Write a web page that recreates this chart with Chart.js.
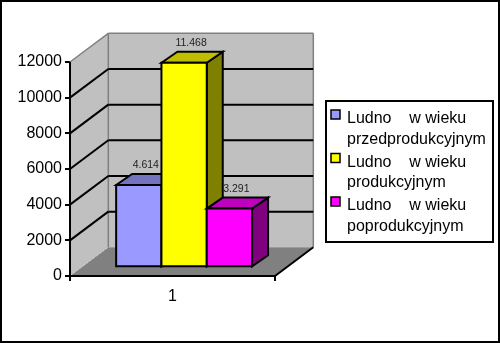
<!DOCTYPE html>
<html>
<head>
<meta charset="utf-8">
<script src="https://cdn.jsdelivr.net/npm/chart.js@4/dist/chart.umd.min.js"></script>
<style>
html,body{margin:0;padding:0;background:#fff;}
canvas{display:block;}
</style>
</head>
<body>
<canvas id="c" width="500" height="343"></canvas>
<script>
// ---- data ----
const categories = ['1'];
const seriesLabels = [
  ['Ludno    w wieku', 'przedprodukcyjnym'],
  ['Ludno    w wieku', 'produkcyjnym'],
  ['Ludno    w wieku', 'poprodukcyjnym']
];
const seriesPre = [4614];
const seriesProd = [11468];
const seriesPost = [3291];
const yTicks = [0, 2000, 4000, 6000, 8000, 10000, 12000];
const frontColors = ['#9999FF', '#FFFF00', '#FF00FF'];
const topColors = ['#7373BF', '#BFBF00', '#BF00BF'];
const sideColors = ['#4D4D80', '#808000', '#800080'];

// ---- geometry of fake 3D ----
const DEPTH = {x: 38.3, y: -28.7};   // wall depth
const BARFRONT = {x: 11.6, y: -8.7}; // bar front face offset
const BARDEPTH = {x: 16, y: -11};    // bar depth

function fmt(v){ return String(v).replace(/\B(?=(\d{3})+(?!\d))/g, '.'); }

function poly(ctx, pts, fill, stroke, lw){
  ctx.beginPath();
  ctx.moveTo(pts[0][0], pts[0][1]);
  for (let i = 1; i < pts.length; i++) ctx.lineTo(pts[i][0], pts[i][1]);
  ctx.closePath();
  if (fill){ ctx.fillStyle = fill; ctx.fill(); }
  if (stroke){ ctx.strokeStyle = stroke; ctx.lineWidth = lw; ctx.lineJoin = 'miter'; ctx.stroke(); }
}
function line(ctx, x1, y1, x2, y2, color, lw, dash){
  ctx.save();
  ctx.beginPath();
  if (dash) ctx.setLineDash(dash);
  ctx.moveTo(x1, y1); ctx.lineTo(x2, y2);
  ctx.strokeStyle = color; ctx.lineWidth = lw; ctx.stroke();
  ctx.restore();
}

const threeD = {
  id: 'threeD',
  beforeDraw(chart){
    const ctx = chart.ctx;
    ctx.save(); ctx.fillStyle = '#fff'; ctx.fillRect(0, 0, chart.width, chart.height); ctx.restore();
  },
  beforeDatasetsDraw(chart){
    const ctx = chart.ctx;
    const a = chart.chartArea;
    const ys = chart.scales.y;
    const L = a.left, R = a.right;
    const yMax = yTicks[yTicks.length - 1];
    const T = ys.getPixelForValue(yMax), B = ys.getPixelForValue(0);
    const dx = DEPTH.x, dy = DEPTH.y;
    ctx.save();
    // back wall
    poly(ctx, [[L+dx, T+dy], [R+dx, T+dy], [R+dx, B+dy], [L+dx, B+dy]], '#C0C0C0', null);
    // left wall
    poly(ctx, [[L, T], [L+dx, T+dy], [L+dx, B+dy], [L, B]], '#C0C0C0', null);
    // floor
    poly(ctx, [[L, B], [R, B], [R+dx, B+dy], [L+dx, B+dy]], '#808080', null);
    // wall borders (grey)
    line(ctx, L, T, L+dx, T+dy, '#808080', 1.5);
    line(ctx, L+dx, T+dy, R+dx, T+dy, '#808080', 1.5);
    line(ctx, L+dx, T+dy, L+dx, B+dy, '#808080', 1.5);
    line(ctx, R+dx, T+dy, R+dx, B+dy, '#808080', 1.5);
    // gridlines
    yTicks.forEach(v => {
      if (v === 0 || v === yMax) return;
      const py = ys.getPixelForValue(v);
      line(ctx, L, py, L+dx, py+dy, '#000', 2);
      line(ctx, L+dx, py+dy, R+dx, py+dy, '#000', 2);
    });
    // dotted light edge between left wall and floor
    line(ctx, L+1, B-1, L+dx, B+dy, '#d8d8d8', 1, [1, 3]);
    // axes
    line(ctx, L, T, L, B+1, '#000', 2);
    line(ctx, L-1, B, R, B, '#000', 2);
    line(ctx, R, B, R+dx, B+dy, '#000', 2);

    // bars
    const bdx = BARDEPTH.x, bdy = BARDEPTH.y;
    chart.data.datasets.forEach((ds, i) => {
      const meta = chart.getDatasetMeta(i);
      meta.data.forEach((el, j) => {
        const p = el.getProps(['x', 'y', 'base', 'width'], true);
        const l = p.x - p.width/2 + BARFRONT.x;
        const r = p.x + p.width/2 + BARFRONT.x;
        const t = p.y + BARFRONT.y;
        const b = p.base + BARFRONT.y;
        // side
        poly(ctx, [[r, t], [r+bdx, t+bdy], [r+bdx, b+bdy], [r, b]], sideColors[i], '#000', 2);
        // top
        poly(ctx, [[l, t], [l+bdx, t+bdy], [r+bdx, t+bdy], [r, t]], topColors[i], '#000', 2);
        // front
        poly(ctx, [[l, t], [r, t], [r, b], [l, b]], frontColors[i], '#000', 2);
      });
    });
    // value labels
    chart.data.datasets.forEach((ds, i) => {
      const meta = chart.getDatasetMeta(i);
      meta.data.forEach((el, j) => {
        const p = el.getProps(['x', 'y'], true);
        ctx.font = '10.5px "Liberation Sans", Arial, sans-serif';
        ctx.fillStyle = '#222';
        ctx.textAlign = 'center';
        ctx.textBaseline = 'middle';
        ctx.fillText(fmt(ds.data[j]), p.x + BARFRONT.x + 7, p.y + BARFRONT.y + bdy - 9);
      });
    });
    ctx.restore();
    return false;
  },
  afterDraw(chart){
    const ctx = chart.ctx;
    ctx.save();
    // legend
    const lx = 326, ly = 101, lw = 167, lh = 141;
    ctx.fillStyle = '#fff';
    ctx.fillRect(lx, ly, lw, lh);
    ctx.strokeStyle = '#000'; ctx.lineWidth = 2;
    ctx.strokeRect(lx, ly, lw, lh);
    ctx.font = '16px "Liberation Sans", Arial, sans-serif';
    ctx.textAlign = 'left';
    ctx.textBaseline = 'middle';
    seriesLabels.forEach((lines, i) => {
      const y1 = 119 + i * 43.5;
      ctx.fillStyle = frontColors[i];
      ctx.fillRect(331, y1 - 9, 9, 9);
      ctx.strokeStyle = '#000'; ctx.lineWidth = 1.5;
      ctx.strokeRect(331, y1 - 9, 9, 9);
      ctx.fillStyle = '#000';
      lines.forEach((t, k) => ctx.fillText(t, 347, y1 + k * 20.5));
    });
    // outer border
    ctx.strokeStyle = '#000'; ctx.lineWidth = 2;
    ctx.strokeRect(1, 1, chart.width - 2, chart.height - 2);
    ctx.restore();
  }
};

new Chart(document.getElementById('c'), {
  type: 'bar',
  data: {
    labels: categories,
    datasets: [
      {label: seriesLabels[0].join(' '), data: seriesPre, backgroundColor: frontColors[0]},
      {label: seriesLabels[1].join(' '), data: seriesProd, backgroundColor: frontColors[1]},
      {label: seriesLabels[2].join(' '), data: seriesPost, backgroundColor: frontColors[2]}
    ]
  },
  options: {
    responsive: false,
    animation: false,
    devicePixelRatio: 1,
    categoryPercentage: 0.663,
    barPercentage: 1.0,
    layout: {padding: {left: 10, top: 62, right: 225, bottom: 0}},
    plugins: {legend: {display: false}, tooltip: {enabled: false}},
    scales: {
      x: {
        offset: true,
        grid: {display: true, drawOnChartArea: false, drawTicks: true, tickLength: 5, color: '#000', lineWidth: 2, offset: true},
        border: {display: false},
        ticks: {color: '#000', font: {family: '"Liberation Sans", Arial, sans-serif', size: 16}, padding: 6},
        afterFit(s){ s.height = 67; }
      },
      y: {
        min: 0, max: 12000,
        afterBuildTicks(s){ s.ticks = yTicks.map(v => ({value: v})); },
        grid: {display: true, drawOnChartArea: false, drawTicks: true, tickLength: 5, color: '#000', lineWidth: 2},
        border: {display: false},
        ticks: {color: '#000', font: {family: '"Liberation Sans", Arial, sans-serif', size: 16}, padding: 3,
                callback: (v) => String(v)},
        afterFit(s){ s.width = 60; }
      }
    }
  },
  plugins: [threeD]
});
</script>
</body>
</html>
